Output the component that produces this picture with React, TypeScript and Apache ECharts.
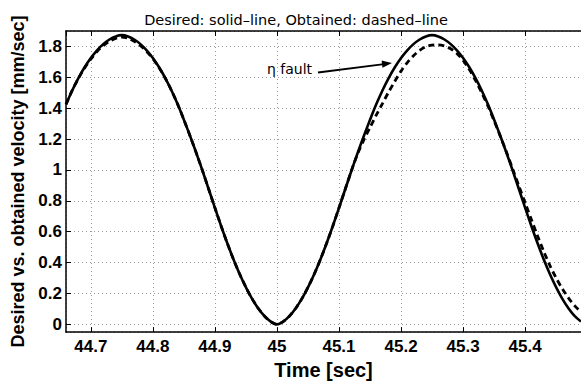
import React, { useEffect, useRef } from "react";
import * as echarts from "echarts";

const timeStart = 44.66;
const timeStep = 0.01;
const desired = [
  1.425, 1.515, 1.595, 1.665, 1.725, 1.775, 1.815, 1.845, 1.865, 1.873,
  1.865, 1.845, 1.815, 1.775, 1.725, 1.665, 1.595, 1.515, 1.425, 1.325,
  1.22, 1.11, 0.995, 0.875, 0.755, 0.637, 0.525, 0.42, 0.325, 0.24,
  0.165, 0.103, 0.053, 0.018, 0.0, 0.018, 0.053, 0.103, 0.165, 0.24,
  0.325, 0.42, 0.525, 0.637, 0.755, 0.875, 0.995, 1.11, 1.22, 1.325,
  1.425, 1.515, 1.595, 1.665, 1.725, 1.775, 1.815, 1.845, 1.865, 1.873,
  1.865, 1.845, 1.815, 1.775, 1.725, 1.665, 1.595, 1.515, 1.425, 1.325,
  1.22, 1.11, 0.995, 0.875, 0.755, 0.637, 0.525, 0.42, 0.325, 0.24,
  0.165, 0.103, 0.053, 0.018,
];
const obtained = [
  1.425, 1.515, 1.593, 1.66, 1.718, 1.767, 1.805, 1.833, 1.852, 1.86,
  1.853, 1.833, 1.805, 1.767, 1.72, 1.662, 1.594, 1.515, 1.425, 1.325,
  1.22, 1.11, 0.995, 0.875, 0.755, 0.637, 0.525, 0.42, 0.325, 0.24,
  0.165, 0.103, 0.053, 0.018, 0.0, 0.018, 0.053, 0.103, 0.165, 0.24,
  0.325, 0.42, 0.525, 0.637, 0.755, 0.875, 0.995, 1.105, 1.195, 1.275,
  1.355, 1.43, 1.505, 1.575, 1.64, 1.695, 1.74, 1.775, 1.798, 1.808,
  1.81, 1.803, 1.785, 1.755, 1.71, 1.65, 1.58, 1.5, 1.415, 1.318,
  1.218, 1.115, 1.005, 0.895, 0.787, 0.68, 0.573, 0.472, 0.38, 0.3,
  0.23, 0.17, 0.12, 0.08,
];
const timeSec = desired.map((_, i) => +(timeStart + i * timeStep).toFixed(2));
const xRange = [44.66, 45.49];
const yRange = [-0.05, 1.9];
const titleText = "Desired: solid\u2013line, Obtained: dashed\u2013line";
const xName = "Time [sec]";
const yName = "Desired vs. obtained velocity [mm/sec]";
const noteText = "\u03b7 fault";

const FONT = "'Liberation Sans', Arial, Helvetica, sans-serif";
const WIDE = "'DejaVu Sans', sans-serif";

export default function App() {
  const ref = useRef<HTMLDivElement>(null);
  useEffect(() => {
    document.body.style.margin = "0";
    const chart = echarts.init(ref.current!, null, { renderer: "svg" });
    const toPairs = (ys: number[]) => timeSec.map((t, i) => [t, ys[i]]);
    const gridLine = { show: true, lineStyle: { color: "#9a9a9a", type: [1, 3], width: 1 } };
    chart.setOption({
      animation: false,
      backgroundColor: "#ffffff",
      title: {
        text: titleText,
        left: 291,
        top: 7,
        textAlign: "center",
        textStyle: { fontFamily: WIDE, fontSize: 14.5, fontWeight: "normal", color: "#000" },
      },
      grid: { left: 66, top: 31, right: -1, bottom: 42, containLabel: false },
      xAxis: [
        {
          type: "value",
          min: xRange[0],
          max: xRange[1],
          splitNumber: 8,
          name: xName,
          nameLocation: "middle",
          nameGap: 18,
          nameTextStyle: { fontFamily: FONT, fontSize: 20, fontWeight: "bold", color: "#000" },
          axisLine: { show: true, onZero: false, lineStyle: { color: "#000", width: 1.5 } },
          axisTick: { show: true, inside: true, length: 5, lineStyle: { color: "#000" } },
          axisLabel: {
            showMinLabel: false,
            showMaxLabel: false,
            margin: 6,
            fontFamily: FONT,
            fontSize: 17,
            fontWeight: "bold",
            color: "#000",
          },
          splitLine: gridLine,
        },
        {
          type: "value",
          position: "top",
          min: xRange[0],
          max: xRange[1],
          splitNumber: 8,
          axisLine: { show: true, onZero: false, lineStyle: { color: "#000", width: 1.5 } },
          axisTick: { show: true, inside: true, length: 5, lineStyle: { color: "#000" } },
          axisLabel: { show: false },
          splitLine: { show: false },
        },
      ],
      yAxis: {
        type: "value",
        min: yRange[0],
        max: yRange[1],
        splitNumber: 10,
        name: yName,
        nameLocation: "middle",
        nameGap: 33,
        nameTextStyle: { fontFamily: FONT, fontSize: 18, fontWeight: "bold", color: "#000" },
        axisLine: { show: true, onZero: false, lineStyle: { color: "#000", width: 1.5 } },
        axisTick: { show: true, inside: true, length: 5, lineStyle: { color: "#000" } },
        axisLabel: {
          showMinLabel: false,
          showMaxLabel: false,
          margin: 4,
          fontFamily: FONT,
          fontSize: 17,
          fontWeight: "bold",
          color: "#000",
        },
        splitLine: gridLine,
      },
      series: [
        {
          name: "Desired",
          type: "line",
          data: toPairs(desired),
          smooth: 0.3,
          showSymbol: false,
          symbol: "none",
          lineStyle: { color: "#000", width: 2.6 },
          z: 3,
        },
        {
          name: "Obtained",
          type: "line",
          data: toPairs(obtained),
          smooth: 0.3,
          showSymbol: false,
          symbol: "none",
          lineStyle: { color: "#000", width: 2.8, type: [6, 4] },
          z: 2,
        },
      ],
      graphic: [
        {
          type: "text",
          left: 267,
          top: 62,
          style: { text: noteText, fontFamily: WIDE, fontSize: 14, fill: "#000" },
        },
        {
          type: "line",
          shape: { x1: 318, y1: 72.5, x2: 384, y2: 64.2 },
          style: { stroke: "#000", lineWidth: 1.8 },
        },
        {
          type: "polygon",
          shape: { points: [[392, 63], [382.5, 67.8], [381.6, 60.6]] },
          style: { fill: "#000" },
        },
      ],
    });
    return () => chart.dispose();
  }, []);
  return <div ref={ref} style={{ position: "fixed", left: 0, top: 0, width: 581, height: 385 }} />;
}
